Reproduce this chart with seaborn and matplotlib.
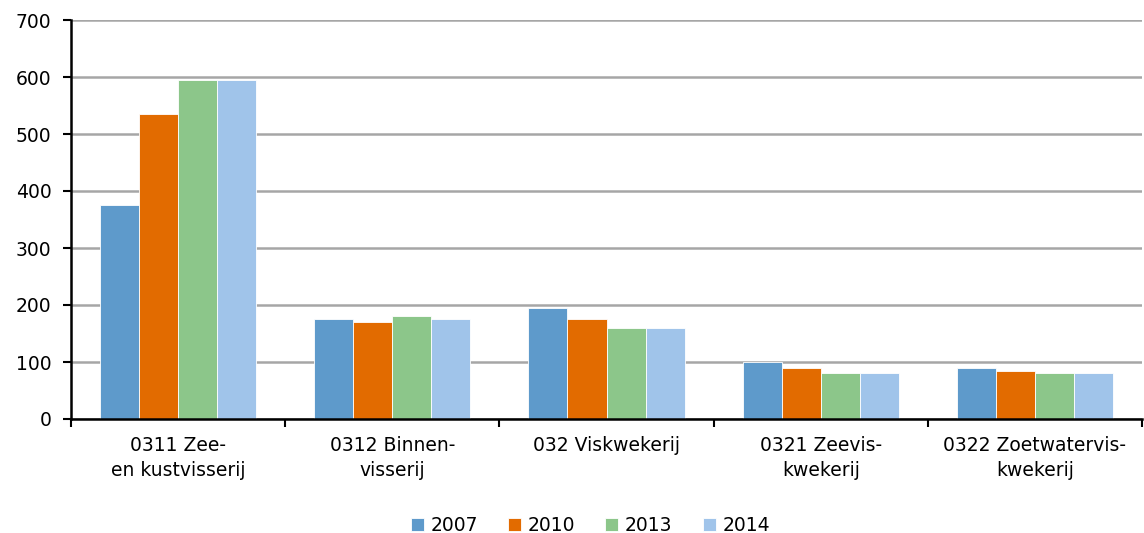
import matplotlib
matplotlib.use("Agg")
import matplotlib.pyplot as plt
import seaborn as sns
import pandas as pd
import numpy as np

# === Data ===
categories = ["0311 Zee-\nen kustvisserij", "0312 Binnen-\nvisserij", "032 Viskwekerij",
              "0321 Zeevis-\nkwekerij", "0322 Zoetwatervis-\nkwekerij"]
years = ["2007", "2010", "2013", "2014"]
v2007 = [375, 175, 195, 100, 90]
v2010 = [535, 170, 175, 90, 85]
v2013 = [595, 180, 160, 80, 80]
v2014 = [595, 175, 160, 80, 80]
colors = ["#5E9ACB", "#E26B00", "#8CC68A", "#A0C4EA"]

df = pd.DataFrame({
    "cat": categories * 4,
    "year": np.repeat(years, len(categories)),
    "value": v2007 + v2010 + v2013 + v2014,
})

# === Style ===
sns.set_style("white")
plt.rcParams["font.family"] = ["DejaVu Sans"]
plt.rcParams["text.color"] = "black"
plt.rcParams["xtick.color"] = "black"
plt.rcParams["ytick.color"] = "black"

fig = plt.figure(figsize=(11.44, 5.33), dpi=100)
ax = fig.add_axes([71 / 1144, 1 - 419 / 533, (1142 - 71) / 1144, (419 - 20) / 533])

sns.barplot(data=df, x="cat", y="value", hue="year", palette=colors, saturation=1,
            width=0.73, gap=0, ax=ax, edgecolor="white", linewidth=0.6)

ax.set_ylim(0, 700)
ax.set_xlim(-0.5, len(categories) - 0.5)
ax.set_yticks(range(0, 701, 100))
ax.yaxis.grid(True, color="#A6A6A6", linewidth=1.8)
ax.set_axisbelow(True)

# ticks between categories
ax.set_xticks(np.arange(-0.5, len(categories), 1.0), minor=True)
ax.tick_params(axis="x", which="major", length=0, pad=12, labelsize=13.5)
ax.tick_params(axis="x", which="minor", length=6, width=1.5, direction="out", color="black")
ax.tick_params(axis="y", length=6, width=1.5, direction="out", color="black", labelsize=13.5, pad=8)
ax.xaxis.set_ticks_position("bottom")
ax.yaxis.set_ticks_position("left")
for lbl in ax.get_xticklabels():
    lbl.set_linespacing(1.45)

for s in ["top", "right"]:
    ax.spines[s].set_visible(False)
for s in ["left", "bottom"]:
    ax.spines[s].set_color("black")
    ax.spines[s].set_linewidth(1.8)

ax.set_xlabel("")
ax.set_ylabel("")

ax.legend(loc="upper center", bbox_to_anchor=(0.485, -0.2), ncol=4, frameon=False,
          fontsize=13.5, handlelength=0.7, handleheight=0.7, handletextpad=0.35,
          columnspacing=1.6)

plt.savefig("out.png", dpi=100)
